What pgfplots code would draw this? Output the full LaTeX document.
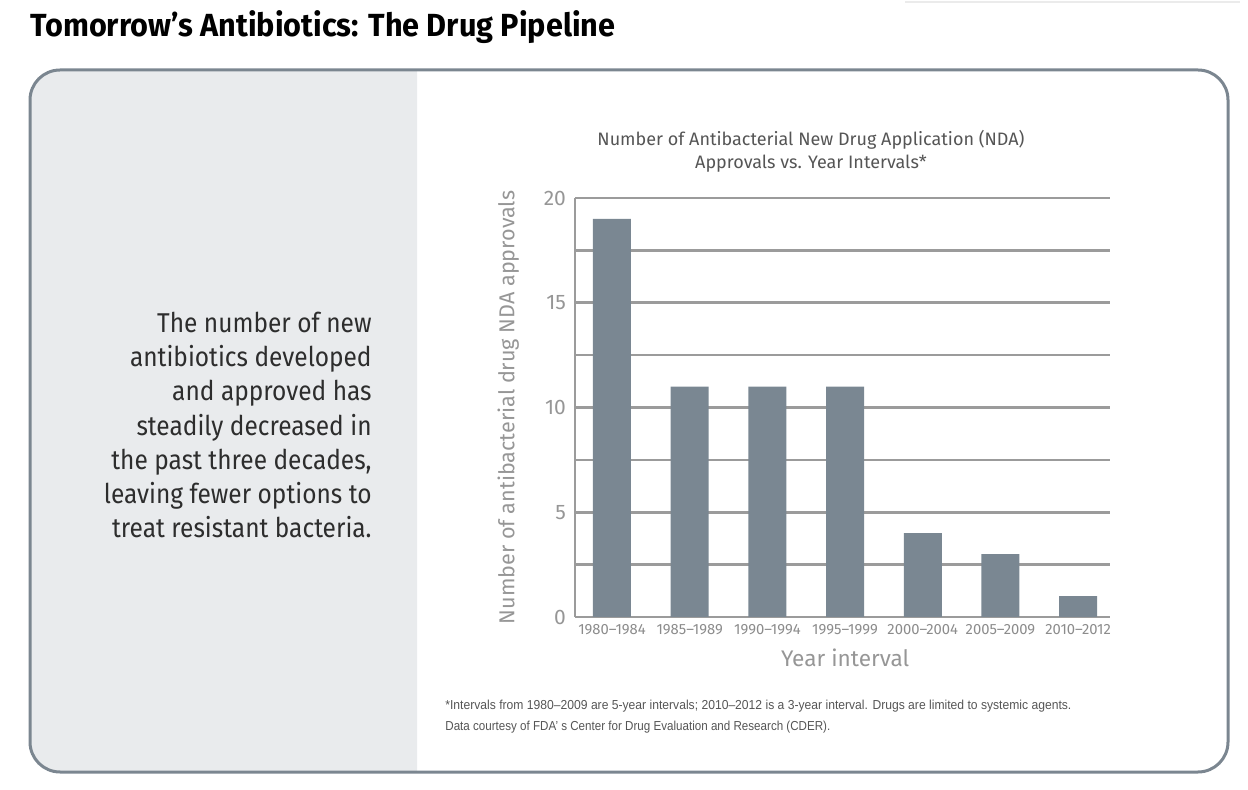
\documentclass[border=0pt]{standalone}
\usepackage{pgfplots}
\pgfplotsset{compat=1.18}
\usepackage{fontspec}
\setmainfont{Fira Sans}
\newfontfamily\bodyfont[FakeStretch=0.9]{Fira Sans}
\newfontfamily\footfont{Liberation Sans}
\definecolor{barc}{RGB}{122,135,146}
\definecolor{gridc}{RGB}{155,155,155}
\definecolor{framec}{RGB}{123,134,144}
\definecolor{panelc}{RGB}{233,235,237}
\definecolor{txtc}{RGB}{45,45,45}
\definecolor{ctitlec}{RGB}{85,85,85}
\definecolor{tickc}{RGB}{140,140,140}
\definecolor{labc}{RGB}{150,150,150}
\definecolor{faintc}{RGB}{235,235,235}
\begin{document}
\begin{tikzpicture}
\useasboundingbox (0,0) rectangle (624pt,-395pt);
\begin{scope}[x=0.5pt,y=-0.5pt]
  \draw[faintc, line width=1pt] (905,2) -- (1240,2);
  \node[anchor=base west, inner sep=0, text=black] at (30,37)
    {\fontsize{16}{19}\selectfont\bfseries\resizebox{292.5pt}{\height}{Tomorrow’s Antibiotics: The Drug Pipeline}};
  \begin{scope}
    \clip (28,68) rectangle (417,775);
    \fill[panelc, rounded corners=15] (30,70) rectangle (1228,772);
  \end{scope}
  \draw[framec, line width=1.5pt, rounded corners=15] (30,70) rectangle (1228,772);
  \begin{scope}[every node/.style={anchor=base east, inner sep=0, text=txtc, font=\bodyfont\fontsize{13.6}{17}\selectfont}]
    \node at (372,333) {The number of new};
    \node at (372,367) {antibiotics developed};
    \node at (372,401) {and approved has};
    \node at (372,436) {steadily decreased in};
    \node at (372,470) {the past three decades,};
    \node at (372,504) {leaving fewer options to};
    \node at (372,538) {treat resistant bacteria.};
  \end{scope}
  \node[anchor=base, inner sep=0, text=ctitlec, font=\fontsize{9}{11}\selectfont] at (811,146) {Number of Antibacterial New Drug Application (NDA)};
  \node[anchor=base, inner sep=0, text=ctitlec, font=\fontsize{9}{11}\selectfont] at (811,169) {Approvals vs. Year Intervals*};
  \node[anchor=base west, inner sep=0, text=ctitlec] at (445,710)
    {\footfont\fontsize{6.5}{8}\selectfont\resizebox{313pt}{\height}{*Intervals from 1980–2009 are 5-year intervals; 2010–2012 is a 3-year interval. Drugs are limited to systemic agents.}};
  \node[anchor=base west, inner sep=0, text=ctitlec] at (445,731)
    {\footfont\fontsize{6.5}{8}\selectfont\resizebox{192.5pt}{\height}{Data courtesy of FDA’ s Center for Drug Evaluation and Research (CDER).}};
\end{scope}
\begin{axis}[
  at={(287.5pt,-308.5pt)}, anchor=south west,
  scale only axis, width=267.5pt, height=209.5pt,
  xmin=-0.476, xmax=6.41, ymin=0, ymax=20,
  axis x line*=bottom, axis y line*=left,
  axis line style={gridc, line width=1.3pt, -},
  ytick={0,5,10,15,20}, minor ytick={2.5,7.5,12.5,17.5},
  ymajorgrids, yminorgrids,
  major grid style={gridc, line width=1.3pt},
  minor grid style={gridc, line width=1.3pt},
  major tick length=0pt, minor tick length=0pt,
  xtick={0,1,2,3,4,5,6},
  xticklabels={1980–1984,1985–1989,1990–1994,1995–1999,2000–2004,2005–2009,2010–2012},
  x tick label style={font=\fontsize{7.4}{9}\selectfont, text=tickc},
  y tick label style={font=\fontsize{10.5}{12}\selectfont, text=labc, xshift=-1pt},
  /pgf/number format/assume math mode=true,
  xlabel={Year interval},
  xlabel style={at={(axis description cs:0.505,-0.098)}, anchor=center, font=\fontsize{11.3}{14}\selectfont, text=labc},
  ylabel={Number of antibacterial drug NDA approvals},
  ylabel style={at={(axis description cs:-0.125,0.5)}, anchor=center, font=\fontsize{10.8}{13}\selectfont, text=labc},
]
\addplot[ybar, bar width=19pt, fill=barc, draw=none] coordinates {(0,19) (1,11) (2,11) (3,11) (4,4) (5,3) (6,1)};
\end{axis}
\end{tikzpicture}
\end{document}
